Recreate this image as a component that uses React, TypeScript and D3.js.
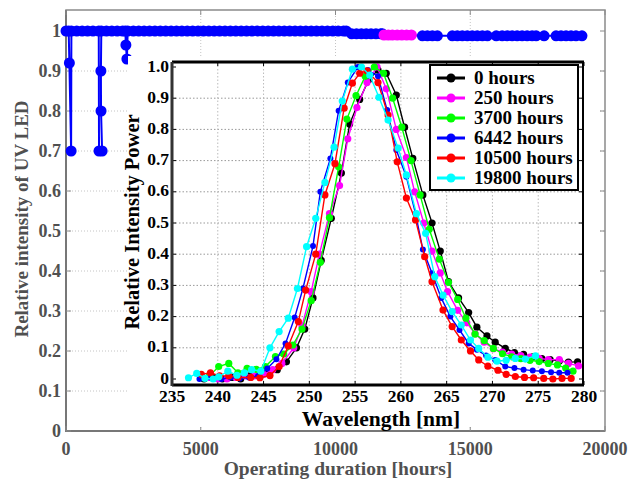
import React from 'react';
import * as d3 from 'd3';

// ---------- Main chart data ----------
const mainXTicks = [0, 5000, 10000, 15000, 20000];
const mainYTicks = [0, 0.1, 0.2, 0.3, 0.4, 0.5, 0.6, 0.7, 0.8, 0.9, 1];
const mainYTickLabels = ['0', '0.1', '0.2', '0.3', '0.4', '0.5', '0.6', '0.7', '0.8', '0.9', '1'];

const blueSeries: [number, number][] = [
  [0, 1], [100, 1], [125, 0.92], [190, 0.7], [200, 1], [400, 1], [600, 1], [800, 1], [1000, 1],
  [1215, 1], [1225, 0.7], [1340, 0.7], [1300, 0.8], [1295, 0.9], [1310, 1], [1500, 1], [1700, 1],
  [1900, 1], [2100, 1], [2200, 1], [2222, 0.965], [2260, 0.93], [2290, 1], [2500, 1], [2700, 1],
  [2900, 1], [3100, 1], [3300, 1], [3500, 1], [3700, 1], [3900, 1], [4100, 1], [4300, 1], [4500, 1],
  [4700, 1], [4900, 1], [5100, 1], [5300, 1], [5500, 1], [5700, 1], [5900, 1], [6100, 1], [6300, 1],
  [6500, 1], [6700, 1], [6900, 1], [7100, 1], [7300, 1], [7500, 1], [7700, 1], [7900, 1], [8100, 1],
  [8300, 1], [8500, 1], [8700, 1], [8900, 1], [9100, 1], [9300, 1], [9500, 1], [9700, 1], [9900, 1],
  [10100, 1], [10300, 1], [10400, 1],
  [10600, 0.993], [10780, 0.993], [10960, 0.993], [11140, 0.993], [11320, 0.993], [11500, 0.993],
  [11680, 0.993], [11740, 0.993],
  [13225, 0.988], [13410, 0.988], [13595, 0.988], [13780, 0.988],
  [14335, 0.988], [14520, 0.988], [14705, 0.988], [14890, 0.988], [15075, 0.988], [15260, 0.988],
  [15450, 0.988], [15635, 0.988],
  [15965, 0.988],
  [16185, 0.988], [16370, 0.988], [16555, 0.988], [16740, 0.988], [16925, 0.988], [17110, 0.988],
  [17295, 0.988], [17445, 0.988],
  [17740, 0.988],
  [18185, 0.988], [18370, 0.988], [18555, 0.988], [18740, 0.988], [18925, 0.988], [19145, 0.988],
];

const magentaSeries: [number, number][] = [
  [11800, 0.99], [11960, 0.99], [12110, 0.99], [12290, 0.99], [12460, 0.99], [12640, 0.99], [12815, 0.99],
];

// ---------- Inset data ----------
const insetXTicks = [235, 240, 245, 250, 255, 260, 265, 270, 275, 280];
const insetYTicks = [0, 0.1, 0.2, 0.3, 0.4, 0.5, 0.6, 0.7, 0.8, 0.9, 1.0];
const insetYTickLabels = ['0', '0.1', '0.2', '0.3', '0.4', '0.5', '0.6', '0.7', '0.8', '0.9', '1.0'];

const spectrum0h: [number, number][] = [
  [238.5, 0.0], [239.5, 0.005], [240.5, 0.0], [241.5, 0.005], [242.5, 0.0], [243.5, 0.01], [244.5, 0.01],
  [245.5, 0.02], [246.5, 0.03], [247.5, 0.055], [248.6, 0.1], [249.5, 0.16], [250.4, 0.26], [251.3, 0.38],
  [252.4, 0.515], [253.5, 0.66], [254.4, 0.817], [255.5, 0.896], [256.5, 0.96], [257.5, 0.99], [258.4, 0.98],
  [259.5, 0.91], [260.4, 0.807], [261.3, 0.707], [262.4, 0.59], [263.4, 0.5], [264.3, 0.41], [265.2, 0.312],
  [266.3, 0.26], [267.4, 0.213], [268.3, 0.166], [269.4, 0.138], [270.3, 0.118], [271.4, 0.098],
  [272.4, 0.085], [273.4, 0.079], [274.4, 0.071], [275.4, 0.065], [276.3, 0.062], [277.3, 0.058],
  [278.3, 0.054], [279.3, 0.055],
];
const spectrum250h: [number, number][] = [
  [239, 0.005], [240, 0.0], [241, 0.0], [242, 0.005], [243, 0.01], [244, 0.01], [245, 0.015], [246, 0.03],
  [247, 0.05], [248.3, 0.1], [249.2, 0.17], [250.2, 0.28], [251.1, 0.4], [252.2, 0.53], [253.3, 0.62],
  [254.2, 0.77], [255.2, 0.87], [256.3, 0.95], [257.4, 1.0], [258.4, 0.93], [259.5, 0.8], [260.6, 0.71],
  [261.5, 0.6], [262.5, 0.5], [263.4, 0.41], [264.3, 0.34], [265.1, 0.28], [266.2, 0.22], [267.2, 0.18],
  [268.1, 0.145], [269.1, 0.118], [270.1, 0.097], [271.1, 0.086], [272.1, 0.08], [273.1, 0.075],
  [274.1, 0.07], [275.1, 0.066], [276.1, 0.062], [277.3, 0.062], [278.3, 0.05], [279.4, 0.042],
];
const spectrum3700h: [number, number][] = [
  [239.1, 0.01], [240.1, 0.04], [241.2, 0.05], [242.2, 0.02], [243.2, 0.034], [244.2, 0.031], [245.2, 0.04],
  [246.3, 0.072], [247.2, 0.08], [248.2, 0.109], [249.2, 0.16], [250.2, 0.251], [251.2, 0.374],
  [252.2, 0.517], [253.2, 0.68], [254.1, 0.833], [255.1, 0.908], [256.1, 0.97], [257.1, 1.0], [258.1, 0.98],
  [259.1, 0.9], [260.1, 0.807], [261.1, 0.7], [262.1, 0.59], [263.1, 0.48], [264.2, 0.384], [265.2, 0.31],
  [266.2, 0.255], [267.1, 0.195], [268.1, 0.144], [269.1, 0.123], [270.1, 0.098], [271.1, 0.081],
  [272.1, 0.071], [273.1, 0.065], [274.1, 0.06], [275.1, 0.056], [276.1, 0.05], [277.1, 0.045],
  [278, 0.035], [278.8, 0.025],
];
const spectrum6442h: [number, number][] = [
  [238, 0.0], [239.2, 0.005], [240.4, 0.0], [241.4, 0.005], [242.4, 0.002], [243.4, 0.005], [244.4, 0.01],
  [245.4, 0.034], [246.4, 0.063], [247.4, 0.114], [248.4, 0.197], [249.3, 0.29], [250.4, 0.426],
  [251.2, 0.6], [252.3, 0.707], [253.2, 0.86], [254.2, 0.95], [255.3, 1.0], [256.4, 0.99], [257.5, 0.97],
  [258.5, 0.862], [259.5, 0.734], [260.6, 0.648], [261.6, 0.53], [262.4, 0.415], [263.4, 0.339],
  [264.4, 0.26], [265.4, 0.2], [266.4, 0.157], [267.4, 0.114], [268.3, 0.094], [269.3, 0.075],
  [270.3, 0.061], [271.4, 0.04], [272.4, 0.035], [273.4, 0.03], [274.4, 0.027], [275.4, 0.025],
  [276.4, 0.022], [277.3, 0.02], [278.2, 0.02],
];
const spectrum10500h: [number, number][] = [
  [238.2, 0.015], [239.2, 0.02], [240.2, 0.01], [241.2, 0.01], [242.2, 0.005], [243.6, 0.005],
  [244.6, 0.004], [245.7, 0.011], [246.7, 0.04], [247.7, 0.106], [248.8, 0.184], [249.6, 0.285],
  [250.7, 0.4], [251.7, 0.59], [252.8, 0.69], [253.8, 0.868], [254.7, 0.948], [255.5, 0.98], [256.3, 0.988],
  [257.5, 0.95], [258.6, 0.846], [259.6, 0.696], [260.6, 0.58], [261.6, 0.51], [262.6, 0.392],
  [263.4, 0.312], [264.6, 0.221], [265.6, 0.168], [266.6, 0.125], [267.6, 0.09], [268.5, 0.061],
  [269.5, 0.041], [270.6, 0.028], [271.5, 0.015], [272.5, 0.008], [273.5, 0.005], [274.5, 0.004],
  [275.6, 0.002], [276.6, 0.0], [277.6, 0.002], [278.6, 0.002],
];
const spectrum19800h: [number, number][] = [
  [236.8, 0.004], [237.7, 0.018], [238.6, 0.002], [239.5, 0.0], [240.1, 0.007], [241.1, 0.025],
  [242.1, 0.012], [242.9, 0.02], [243.7, 0.03], [244.7, 0.025], [245.7, 0.1], [246.7, 0.152],
  [247.7, 0.195], [248.7, 0.29], [249.7, 0.424], [250.7, 0.515], [251.7, 0.63], [252.7, 0.743],
  [253.6, 0.891], [254.7, 0.993], [255.7, 1.0], [256.6, 0.974], [257.6, 0.903], [258.6, 0.83],
  [259.7, 0.74], [260.6, 0.654], [261.7, 0.53], [262.7, 0.467], [263.7, 0.328], [264.6, 0.269],
  [265.6, 0.216], [266.6, 0.173], [267.6, 0.125], [268.5, 0.098], [269.5, 0.07], [270.5, 0.057],
  [271.5, 0.06], [272.5, 0.066], [273.6, 0.064], [274.7, 0.074],
];

const legendLabels = ['0 hours', '250 hours', '3700 hours', '6442 hours', '10500 hours', '19800 hours'];
const spectra = [spectrum0h, spectrum250h, spectrum3700h, spectrum6442h, spectrum10500h, spectrum19800h];
const spectrumColors = ['#000000', '#ff00ff', '#00ff00', '#0000ff', '#ff0000', '#00ffff'];

const SERIF = "'Liberation Serif', 'Times New Roman', Times, serif";

export default function App() {
  // main chart
  const mL = 66, mR = 605, mT = 10, mB = 431;
  const mx = d3.scaleLinear().domain([0, 20000]).range([mL, mR]);
  const my = d3.scaleLinear().domain([0, 1]).range([mB, 31]);
  const mainLine = d3.line<[number, number]>().x(d => mx(d[0])).y(d => my(d[1]));

  // inset
  const iL = 172, iR = 583, iT = 62, iB = 385;
  const ix = d3.scaleLinear().domain([235, 280]).range([172, 584]);
  const iy = d3.scaleLinear().domain([0, 1]).range([379, 67]);
  const insetLine = d3.line<[number, number]>().x(d => ix(d[0])).y(d => iy(d[1]));

  const gray = '#505050';
  const axisGray = '#8a8a8a';

  return (
    <svg width={639} height={480} style={{ position: 'absolute', left: 0, top: 0, background: '#fff' }}
      fontFamily={SERIF}>
      <rect x={0} y={0} width={639} height={480} fill="#fff" />
      {/* main grid */}
      {mainYTicks.slice(1, 10).map(t => (
        <line key={'mg' + t} x1={mL} x2={mR} y1={my(t)} y2={my(t)} stroke="#c4c4c4" strokeDasharray="1,2" />
      ))}
      {mainXTicks.slice(1, 4).map(t => (
        <line key={'mgx' + t} x1={mx(t)} x2={mx(t)} y1={mT} y2={mB} stroke="#c4c4c4" strokeDasharray="1,2" />
      ))}
      {/* main box */}
      <rect x={mL} y={mT} width={mR - mL} height={mB - mT} fill="none" stroke={axisGray} strokeWidth={1.5} />
      <line x1={mL} x2={mL} y1={mT} y2={mB + 1} stroke="#777" strokeWidth={2} />
      <line x1={mL} x2={mR} y1={mB} y2={mB} stroke="#777" strokeWidth={2} />
      {mainYTicks.map(t => (
        <g key={'myt' + t}>
          <line x1={mL} x2={mL + 5} y1={my(t)} y2={my(t)} stroke={axisGray} />
          <line x1={mR} x2={mR - 5} y1={my(t)} y2={my(t)} stroke={axisGray} />
        </g>
      ))}
      {mainXTicks.map(t => (
        <g key={'mxt' + t}>
          <line x1={mx(t)} x2={mx(t)} y1={mB} y2={mB - 5} stroke={axisGray} />
          <line x1={mx(t)} x2={mx(t)} y1={mT} y2={mT + 5} stroke={axisGray} />
        </g>
      ))}
      {/* main tick labels */}
      {mainYTicks.map((t, i) => (
        <text key={'myl' + t} x={mL - 5} y={my(t) + 6} textAnchor="end" fontSize={18} fontWeight="bold" fill={gray}>
          {mainYTickLabels[i]}
        </text>
      ))}
      {mainXTicks.map(t => (
        <text key={'mxl' + t} x={mx(t)} y={455} textAnchor="middle" fontSize={18} fontWeight="bold" fill={gray}>
          {t}
        </text>
      ))}
      <text x={338} y={475} textAnchor="middle" fontSize={19.5} fontWeight="bold" fill={gray}>
        Operating duration [hours]
      </text>
      <text transform="translate(28,219) rotate(-90)" textAnchor="middle" fontSize={19} fontWeight="bold" fill={gray}>
        Relative intensity of UV LED
      </text>

      {/* main series */}
      <path d={mainLine(blueSeries) || ''} fill="none" stroke="#0000ff" strokeWidth={2} />
      {blueSeries.map((d, i) => (
        <circle key={'bm' + i} cx={mx(d[0])} cy={my(d[1])} r={5.5} fill="#0000ff" />
      ))}
      <path d={mainLine(magentaSeries) || ''} fill="none" stroke="#ff00ff" strokeWidth={2} />
      {magentaSeries.map((d, i) => (
        <circle key={'mm' + i} cx={mx(d[0])} cy={my(d[1])} r={5.5} fill="#ff00ff" />
      ))}

      {/* inset background */}
      <rect x={128} y={56} width={470} height={371} fill="#fff" />
      {/* inset grid */}
      {insetYTicks.slice(1, 10).map(t => (
        <line key={'ig' + t} x1={iL} x2={iR} y1={iy(t)} y2={iy(t)} stroke="#999" strokeDasharray="1.5,2" />
      ))}
      {insetXTicks.slice(1, 9).map(t => (
        <line key={'igx' + t} x1={ix(t)} x2={ix(t)} y1={iT} y2={iB} stroke="#bbb" strokeDasharray="1.5,2" />
      ))}
      {/* inset ticks */}
      {insetXTicks.map(t => (
        <g key={'ixt' + t}>
          <line x1={ix(t)} x2={ix(t)} y1={iB} y2={iB - 4} stroke="#000" />
          <line x1={ix(t)} x2={ix(t)} y1={iT} y2={iT + 4} stroke="#000" />
        </g>
      ))}
      {insetYTicks.map(t => (
        <g key={'iyt' + t}>
          <line x1={iL} x2={iL + 4} y1={iy(t)} y2={iy(t)} stroke="#000" />
          <line x1={iR} x2={iR - 4} y1={iy(t)} y2={iy(t)} stroke="#000" />
        </g>
      ))}
      {/* inset series */}
      {spectra.map((s, k) => (
        <g key={'sp' + k}>
          <path d={insetLine(s) || ''} fill="none" stroke={spectrumColors[k]} strokeWidth={1.4} />
          {s.map((d, i) => (
            <circle key={i} cx={ix(d[0])} cy={iy(d[1])} r={k === 3 ? 3 : 3.6} fill={spectrumColors[k]} />
          ))}
        </g>
      ))}
      {/* inset frame */}
      <line x1={iL} x2={iR + 1} y1={iT} y2={iT} stroke="#000" strokeWidth={3} />
      <line x1={iL} x2={iR + 1} y1={iB} y2={iB} stroke="#000" strokeWidth={3} />
      <line x1={iR} x2={iR} y1={iT} y2={iB} stroke="#000" strokeWidth={2} />
      <line x1={iL} x2={iL} y1={iT} y2={iB + 1} stroke="#333" strokeWidth={3} />
      {/* inset tick labels */}
      {insetYTicks.map((t, i) => (
        <text key={'iyl' + t} x={iL - 3} y={iy(t) + 4.5} textAnchor="end" fontSize={17.5} fontWeight="bold" fill="#000">
          {insetYTickLabels[i]}
        </text>
      ))}
      {insetXTicks.map(t => (
        <text key={'ixl' + t} x={ix(t)} y={402} textAnchor="middle" fontSize={17.5} fontWeight="bold" fill="#000">
          {t}
        </text>
      ))}
      <text x={381} y={426} textAnchor="middle" fontSize={21.5} fontWeight="bold" fill="#000">
        Wavelength [nm]
      </text>
      <text transform="translate(139,222) rotate(-90)" textAnchor="middle" fontSize={20.5} fontWeight="bold" fill="#000">
        Relative Intensity Power
      </text>

      {/* legend */}
      <rect x={430} y={65} width={148} height={125} fill="#fff" stroke="#000" strokeWidth={2} />
      {legendLabels.map((lab, i) => {
        const yy = 78 + i * 20;
        return (
          <g key={'lg' + i}>
            <line x1={437} x2={465} y1={yy} y2={yy} stroke={spectrumColors[i]} strokeWidth={3} />
            <circle cx={451} cy={yy} r={4.5} fill={spectrumColors[i]} />
            <text x={474} y={yy + 6} fontSize={19} fontWeight="bold" fill="#000">{lab}</text>
          </g>
        );
      })}
    </svg>
  );
}
